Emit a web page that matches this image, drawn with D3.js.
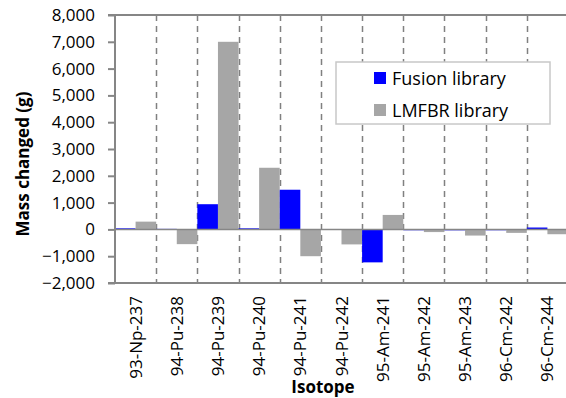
<!DOCTYPE html>
<html>
<head>
<meta charset="utf-8">
<script src="https://cdn.jsdelivr.net/npm/d3@7"></script>
<style>
  body { margin: 0; background: #fff; }
  svg text { font-family: "Open Sans", sans-serif; fill: #000; }
</style>
</head>
<body>
<div id="chart"></div>
<script>
// isotopes on the x axis
var isotopes = ['93-Np-237', '94-Pu-238', '94-Pu-239', '94-Pu-240', '94-Pu-241', '94-Pu-242',
    '95-Am-241', '95-Am-242', '95-Am-243', '96-Cm-242', '96-Cm-244']
// mass changed (g)
var fusionValues = [40, 20, 940, 40, 1480, 15, -1230, 5, 3, 5, 70]
var lmfbrValues = [290, -550, 7000, 2300, -1000, -560, 540, -100, -230, -130, -180]
var seriesNames = ['Fusion library', 'LMFBR library']
var seriesColors = ['#0000FF', '#A6A6A6']
var yTicks = [-2000, -1000, 0, 1000, 2000, 3000, 4000, 5000, 6000, 7000, 8000]

var W = 566, H = 398
var margin = { top: 15, right: -2, bottom: 115, left: 115 },
    width = W - margin.left - margin.right,
    height = H - margin.top - margin.bottom

var svg = d3.select("#chart")
    .append("svg")
    .attr("width", W)
    .attr("height", H)
    .append("g")
    .attr("transform", "translate(" + margin.left + "," + margin.top + ")")

var x = d3.scaleBand().domain(isotopes).range([0, width])
var xs = d3.scaleBand().domain(seriesNames).range([0, x.bandwidth()])
var y = d3.scaleLinear().domain([-2000, 8000]).range([height, 0])

var axisColor = '#868686'

// dashed category separators
svg.selectAll(".sep")
    .data(isotopes.slice(1))
    .enter()
    .append("line")
    .attr("x1", function (d) { return Math.round(x(d)) + 0.5 })
    .attr("x2", function (d) { return Math.round(x(d)) + 0.5 })
    .attr("y1", 0)
    .attr("y2", height)
    .attr("stroke", "#808080")
    .attr("stroke-width", 1.5)
    .attr("stroke-dasharray", "6,5")

// bars
var rows = isotopes.map(function (d, i) {
    return { iso: d, vals: [fusionValues[i], lmfbrValues[i]] }
})
var groups = svg.selectAll(".grp")
    .data(rows)
    .enter()
    .append("g")
    .attr("transform", function (d) { return "translate(" + x(d.iso) + ",0)" })

groups.selectAll("rect")
    .data(function (d) { return d.vals.map(function (v, k) { return { key: seriesNames[k], v: v, k: k } }) })
    .enter()
    .append("rect")
    .attr("x", function (d) { return xs(d.key) })
    .attr("width", xs.bandwidth())
    .attr("y", function (d) { return y(Math.max(0, d.v)) })
    .attr("height", function (d) { return Math.max(1, Math.abs(y(d.v) - y(0))) })
    .attr("fill", function (d) { return seriesColors[d.k] })

// zero line
svg.append("line")
    .attr("x1", 0).attr("x2", width)
    .attr("y1", y(0)).attr("y2", y(0))
    .attr("stroke", axisColor)
    .attr("stroke-width", 1.5)

// top and bottom borders
svg.append("line")
    .attr("x1", -7).attr("x2", width)
    .attr("y1", 0).attr("y2", 0)
    .attr("stroke", axisColor).attr("stroke-width", 2)
svg.append("line")
    .attr("x1", -7).attr("x2", width)
    .attr("y1", height).attr("y2", height)
    .attr("stroke", axisColor).attr("stroke-width", 2)

// Y axis
var yAxis = svg.append("g")
    .call(d3.axisLeft(y).tickValues(yTicks).tickSize(7).tickPadding(13).tickFormat(d3.format(",")))
yAxis.selectAll("path, line").attr("stroke", axisColor).attr("stroke-width", 2)
yAxis.select(".domain").attr("d", "M0," + height + "V0")
yAxis.selectAll("text").style("font-size", "17px").style("font-family", "'Open Sans', sans-serif")

// X labels
svg.selectAll(".xlab")
    .data(isotopes)
    .enter()
    .append("text")
    .attr("transform", function (d) {
        return "translate(" + (x(d) + x.bandwidth() / 2 + 6) + "," + (height + 13) + ") rotate(-90)"
    })
    .attr("text-anchor", "end")
    .style("font-size", "17px")
    .text(function (d) { return d })

// axis titles
svg.append("text")
    .attr("transform", "translate(" + (-115 + 29) + "," + (164 - margin.top) + ") rotate(-90)")
    .attr("text-anchor", "middle")
    .style("font-size", "17px")
    .style("font-weight", "bold")
    .text("Mass changed (g)")

svg.append("text")
    .attr("x", 208)
    .attr("y", H - margin.top - 5)
    .attr("text-anchor", "middle")
    .style("font-size", "17px")
    .style("font-weight", "bold")
    .text("Isotope")

// legend
var legend = svg.append("g").attr("transform", "translate(" + (336 - margin.left) + "," + (62 - margin.top) + ")")
legend.append("rect")
    .attr("width", 214).attr("height", 62)
    .attr("fill", "#fff").attr("stroke", "#c8c8c8").attr("stroke-width", 1.5)
seriesNames.forEach(function (s, i) {
    legend.append("rect")
        .attr("x", 38).attr("y", 10 + i * 32)
        .attr("width", 12).attr("height", 12)
        .attr("fill", seriesColors[i])
    legend.append("text")
        .attr("x", 56).attr("y", 23 + i * 32)
        .style("font-size", "18px")
        .text(s)
})
</script>
</body>
</html>
